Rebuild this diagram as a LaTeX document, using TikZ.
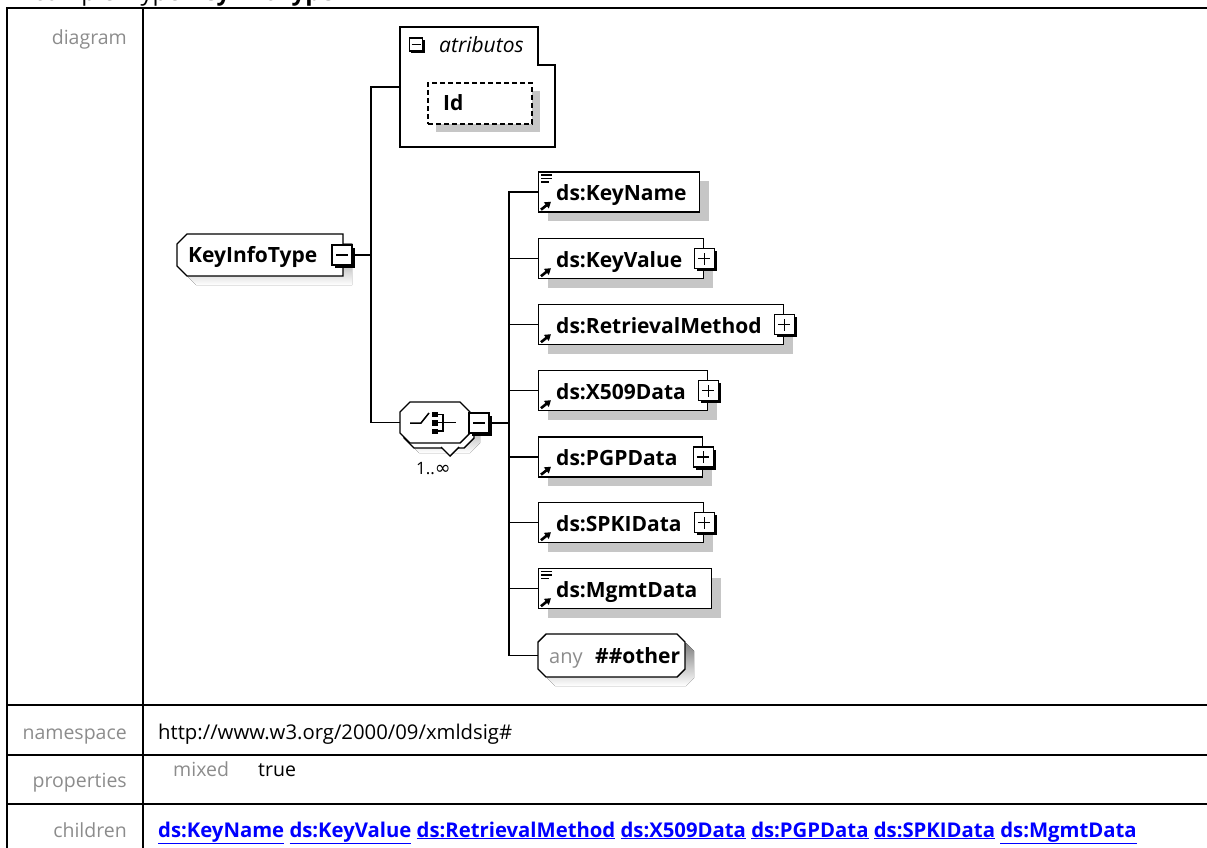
\documentclass[tikz,border=0pt]{standalone}
\usepackage{fontspec}
\setmainfont{Open Sans}
\newfontfamily\djv{DejaVu Sans}
\usetikzlibrary{arrows.meta,shadows}
\definecolor{shade}{HTML}{C6C6C6}
\definecolor{lbl}{HTML}{8C8C8C}
\definecolor{lnk}{HTML}{0000FF}
\newcommand\fs[1]{\fontsize{#1}{#1}\selectfont}
\begin{document}
\begin{tikzpicture}[x=1pt,y=-1pt,
  tbl/.style={line width=2.2pt},
  conn/.style={line width=1.6pt},
  bord/.style={line width=1.4pt},
  oct/.style n args={5}{insert path={({#1+#5},#2) -- ({#3-#5},#2) -- (#3,{#2+#5}) -- (#3,{#4-#5}) -- ({#3-#5},#4) -- ({#1+#5},#4) -- (#1,{#4-#5}) -- (#1,{#2+#5}) -- cycle}},
  elem/.style={draw, bord, fill=white, anchor=west, minimum height=40, inner sep=0pt,
     drop shadow={shadow xshift=9pt, shadow yshift=-9pt, fill=shade, opacity=1}},
  hold/.style={inner sep=0pt, outer sep=0pt},
  etxt/.style={anchor=base west, inner sep=0pt, font=\fs{21}\bfseries},
  btn/.style={draw, line width=1.2pt, fill=white, minimum width=20, minimum height=20, inner sep=0pt,
     drop shadow={shadow xshift=2.5pt, shadow yshift=-2.5pt, fill=black, opacity=1}},
  plusbtn/.style={btn, path picture={\draw[line width=1.5pt]
      ([xshift=-6pt]path picture bounding box.center) -- ([xshift=6pt]path picture bounding box.center)
      ([yshift=-6pt]path picture bounding box.center) -- ([yshift=6pt]path picture bounding box.center);}},
  minusbtn/.style={btn, path picture={\draw[line width=1.5pt]
      ([xshift=-6pt]path picture bounding box.center) -- ([xshift=6pt]path picture bounding box.center);}},
  lab/.style={anchor=base east, inner sep=0pt, text=lbl, font=\fs{19.5}},
  val/.style={anchor=base west, inner sep=0pt, font=\fs{20.3}},
  eicon/.style={line width=2.6pt, -{Triangle[length=6pt,width=7.5pt]}},
]
\path[use as bounding box, clip] (0,0) rectangle (1207,848);

% heading (cut off at the top, as in the reference)
\node[anchor=base west, inner sep=0pt, font=\fs{24}] (head) at (33,1) {complexType \textbf{KeyInfoType}};

% table
\draw[tbl] (1207,8) -- (7,8) -- (7,848);
\draw[tbl] (143,8) -- (143,848);
\draw[tbl] (7,705) -- (1207,705);
\draw[tbl] (7,755) -- (1207,755);
\draw[tbl] (7,804) -- (1207,804);

\node[lab] (ldiag) at (127,45) {diagram};
\node[lab] (lns) at (127,739) {namespace};
\node[lab] (lprop) at (127,787) {properties};
\node[lab] (lchild) at (127,837) {children};
\node[val] (vns) at (158,739) {http://www.w3.org/2000/09/xmldsig\#};
\node[val, text=lbl, font=\fs{19.5}] (vmixed) at (173,776) {mixed};
\node[val, font=\fs{19.5}] (vtrue) at (258,776) {true};
\node[val, text=lnk, font=\fs{20.3}\bfseries] (vchild) at (158,837)
  {\underline{ds:KeyName} \underline{ds:KeyValue} \underline{ds:RetrievalMethod} \underline{ds:X509Data} \underline{ds:PGPData} \underline{ds:SPKIData} \underline{ds:MgmtData}};

% atributos group
\node[hold, minimum width=155, minimum height=120] (attr) at (477.5,87) {};
\draw[bord, fill=white] (400,27) -- (538,27) -- (538,65) -- (555,65) -- (555,147) -- (400,147) -- cycle;
\node[btn, line width=1.1pt, minimum width=13, minimum height=13, drop shadow={shadow xshift=1.8pt, shadow yshift=-1.8pt, fill=black, opacity=1},
  path picture={\draw[line width=1.4pt] ([xshift=-4.5pt]path picture bounding box.center) -- ([xshift=4.5pt]path picture bounding box.center);}]
  (attrbtn) at (416,44.5) {};
\node[anchor=base west, inner sep=0pt, font=\fs{21}\itshape] (attrlab) at (439,53) {atributos};
\node[draw, line width=1.3pt, dash pattern=on 5pt off 3pt, fill=white, inner sep=0pt,
  minimum width=104, minimum height=41,
  drop shadow={shadow xshift=8pt, shadow yshift=-8pt, fill=shade, opacity=1}] (idbox) at (480,103.5) {};
\node[etxt] (idlab) at (443,111) {Id};

% KeyInfoType
\fill[shade] (186,243) -- (352,243) -- (352,285) -- (196,285) -- (186,275) -- cycle;
\draw[bord, fill=white] (187,234) -- (343,234) -- (343,276) -- (187,276) -- (177,266) -- (177,244) -- cycle;
\node[hold, minimum width=166, minimum height=42] (kit) at (260,255) {};
\node[etxt] (kitlab) at (188,262.5) {KeyInfoType};
\node[minusbtn] (kitbtn) at (342,255) {};

% choice compositor
\fill[shade, oct={409}{412}{480}{453}{10}];
\draw[bord, fill=white, oct={404}{407}{474}{448}{10}];
\draw[bord, fill=white] (441,447) -- (450,456) -- (459,447);
\draw[bord, fill=white, oct={400}{402}{470}{443}{10}];
\node[hold, minimum width=70, minimum height=41] (choice) at (435,422.5) {};
\draw[line width=1.5pt] (410,423) -- (421,423) -- (429,413);
\fill (431.5,411.5) rectangle (437.5,417);
\fill (431.5,420) rectangle (437.5,425.5);
\fill (431.5,428.5) rectangle (437.5,434);
\draw[line width=1.3pt] (437,414.5) -- (443,414.5) -- (443,431) -- (437,431);
\draw[line width=1.3pt] (437,422.5) -- (456,422.5);
\node[minusbtn] (chbtn) at (479,423) {};
\node[anchor=base west, inner sep=0pt, font=\fs{17}] (mult) at (416,474) {1..{\djv\fs{19}∞}};

% children
\node[elem, minimum width=161] (kn) at (538,192) {};
\node[elem, minimum width=165] (kv) at (538,258.5) {};
\node[elem, minimum width=245] (rm) at (538,324.5) {};
\node[elem, minimum width=169] (x5) at (538,390.5) {};
\node[elem, minimum width=164] (pg) at (538,457) {};
\node[elem, minimum width=165] (sp) at (538,522.5) {};
\node[elem, minimum width=173] (mg) at (538,588.5) {};
\fill[shade, oct={547}{643}{694}{686}{8}];
\draw[bord, fill=white, oct={538}{634}{685}{677}{8}];
\node[hold, minimum width=147, minimum height=43] (anyn) at (611.5,655.5) {};

\node[etxt] (knt) at (556,200.5) {ds:KeyName};
\node[etxt] (kvt) at (556,267) {ds:KeyValue};
\node[etxt] (rmt) at (556,333) {ds:RetrievalMethod};
\node[etxt] (x5t) at (556,399) {ds:X509Data};
\node[etxt] (pgt) at (556,465.5) {ds:PGPData};
\node[etxt] (spt) at (556,531) {ds:SPKIData};
\node[etxt] (mgt) at (556,597) {ds:MgmtData};
\node[anchor=base west, inner sep=0pt, font=\fs{20}, text=lbl] (anyt) at (549,663) {any};
\node[etxt] (othert) at (595,663) {\#\#other};

\node[plusbtn] (kvbtn) at (kv.east) {};
\node[plusbtn] (rmbtn) at (rm.east) {};
\node[plusbtn] (x5btn) at (x5.east) {};
\node[plusbtn] (pgbtn) at (pg.east) {};
\node[plusbtn] (spbtn) at (sp.east) {};

\foreach \n in {kn,kv,rm,x5,pg,sp,mg}
  \draw[eicon] ([shift={(3pt,3pt)}]\n.south west) -- ++(10pt,8pt);
\foreach \n in {kn,mg}
  \draw[line width=1.4pt] ([shift={(3pt,-3.7pt)}]\n.north west) -- ++(11pt,0pt)
                        ([shift={(3pt,-7.2pt)}]\n.north west) -- ++(11pt,0pt)
                        ([shift={(3pt,-10.7pt)}]\n.north west) -- ++(8pt,0pt);

% connectors
\coordinate (j1) at (371,255);
\coordinate (j2) at (509,423);
\draw[conn] (kitbtn.east) -- (j1);
\draw[conn] (attr.west) -| (j1) |- (choice.west);
\draw[conn] (chbtn.east) -- (j2);
\draw[conn] (kn.west) -| (j2) |- (anyn.west);
\foreach \n in {kv,rm,x5,pg,sp,mg}
  \draw[conn] (\n.west) -- (\n.west -| j2);
\end{tikzpicture}
\end{document}
